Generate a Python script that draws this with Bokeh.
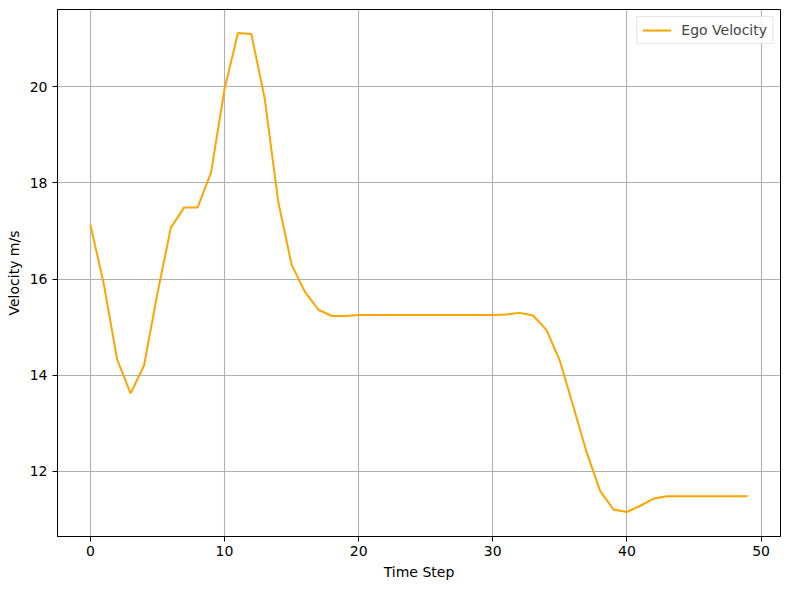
from bokeh.plotting import figure
from bokeh.models import Range1d, FixedTicker, Legend, LegendItem, ColumnDataSource
from bokeh.embed import file_html
from bokeh.resources import INLINE

time_step = list(range(50))
ego_velocity = [
    17.13, 15.9, 14.32, 13.62, 14.20, 15.7, 17.07, 17.49, 17.49, 18.22,
    19.95, 21.12, 21.10, 19.75, 17.62, 16.30, 15.73, 15.36, 15.23, 15.23,
    15.25, 15.25, 15.25, 15.25, 15.25, 15.25, 15.25, 15.25, 15.25, 15.25,
    15.25, 15.26, 15.295, 15.24, 14.94, 14.30, 13.35, 12.39, 11.59, 11.20,
    11.15, 11.28, 11.43, 11.48, 11.48, 11.48, 11.48, 11.48, 11.48, 11.48,
]
x_ticks = [0, 10, 20, 30, 40, 50]
y_ticks = [12, 14, 16, 18, 20]
series_name = "Ego Velocity"
x_label = "Time Step"
y_label = "Velocity m/s"

FONT = "DejaVu Sans"
FS = "14px"

p = figure(
    width=790, height=589,
    output_backend="svg", toolbar_location=None,
    x_range=Range1d(-2.45, 51.45), y_range=Range1d(10.64, 21.61),
    min_border_left=57, min_border_right=10, min_border_top=9, min_border_bottom=53,
)
p.outline_line_color = "black"
p.outline_line_width = 1

src = ColumnDataSource(dict(x=time_step, y=ego_velocity))
r = p.line("x", "y", source=src, line_color="#FFA500", line_width=2)

for ax in (p.xaxis[0], p.yaxis[0]):
    ax.major_label_text_font = FONT
    ax.major_label_text_font_size = FS
    ax.major_label_text_color = "black"
    ax.axis_label_text_font = FONT
    ax.axis_label_text_font_size = FS
    ax.axis_label_text_font_style = "normal"
    ax.axis_label_text_color = "black"
    ax.axis_line_color = "black"
    ax.major_tick_line_color = "black"
    ax.major_tick_out = 5
    ax.major_tick_in = 0
    ax.minor_tick_line_color = None

p.xaxis.ticker = FixedTicker(ticks=x_ticks)
p.yaxis.ticker = FixedTicker(ticks=y_ticks)
p.xaxis.axis_label = x_label
p.yaxis.axis_label = y_label
p.xaxis.axis_label_standoff = 5
p.yaxis.axis_label_standoff = 5
p.xaxis.major_label_standoff = 4
p.yaxis.major_label_standoff = 5

p.xgrid.grid_line_color = "#b0b0b0"
p.ygrid.grid_line_color = "#b0b0b0"
p.xgrid.grid_line_width = 1.1
p.ygrid.grid_line_width = 1.1
p.xgrid.ticker = FixedTicker(ticks=x_ticks)
p.ygrid.ticker = FixedTicker(ticks=y_ticks)

legend = Legend(items=[LegendItem(label=series_name, renderers=[r])])
legend.location = "top_right"
legend.margin = 7
legend.padding = 5
legend.spacing = 0
legend.label_standoff = 10
legend.glyph_width = 29
legend.glyph_height = 16
legend.label_height = 16
legend.label_text_font = FONT
legend.label_text_font_size = FS
legend.border_line_color = "#cccccc"
legend.border_line_width = 1
legend.background_fill_alpha = 0.8
p.add_layout(legend, "center")

open("out.html", "w").write(file_html(p, INLINE))
